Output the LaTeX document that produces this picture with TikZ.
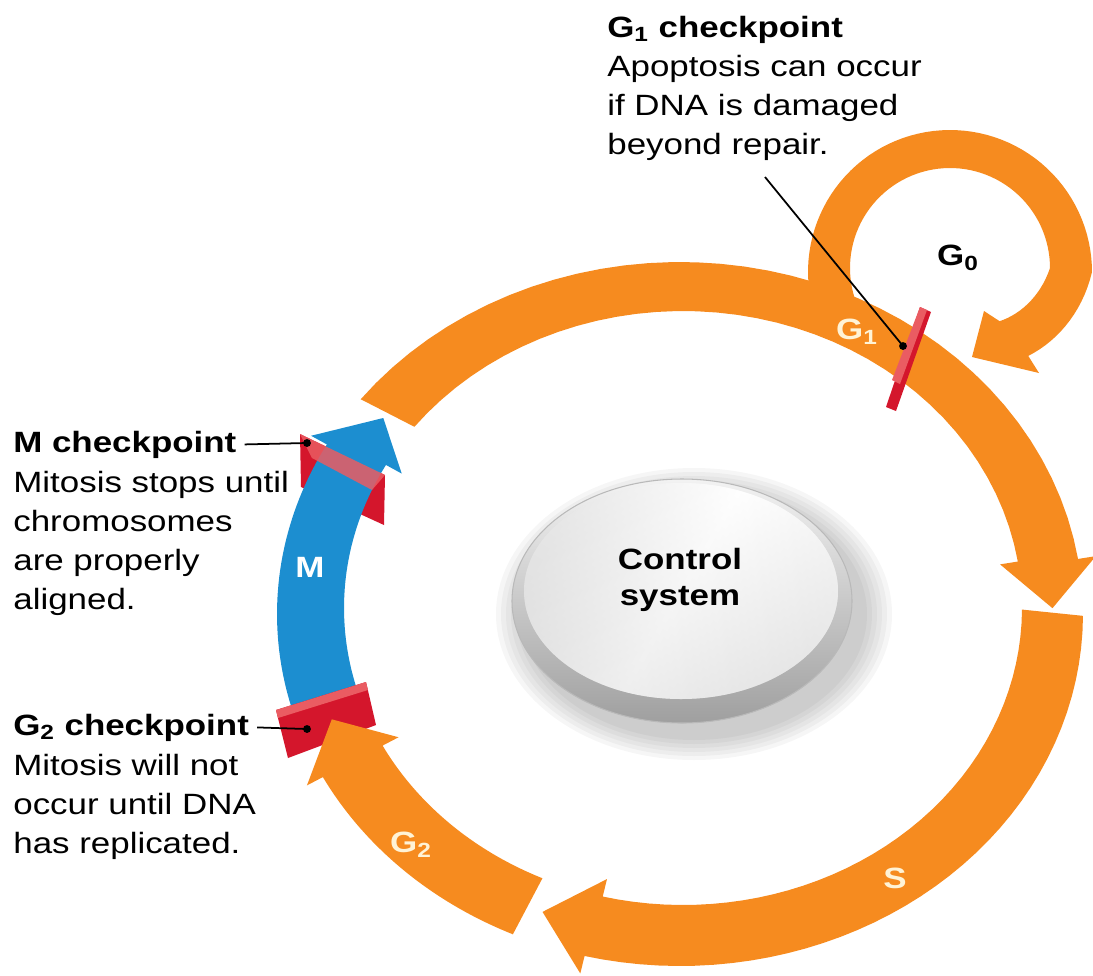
\documentclass[tikz,border=0pt]{standalone}
\usepackage{fontspec}
\setmainfont{Liberation Sans}[FakeStretch=1.19]
\usetikzlibrary{calc}

\definecolor{phaseorange}{RGB}{246,139,31}
\definecolor{phaseblue}{RGB}{28,142,208}
\definecolor{checkred}{RGB}{212,22,44}
\definecolor{checklight}{RGB}{234,92,98}
\definecolor{labelcream}{RGB}{255,243,214}

% band between the two ellipses of the cycle, with its arrow head
\newcommand{\phasearrow}[4]{%
  \fill[#4] plot[domain=#1:#2,samples=40] ({680+403*cos(\x)},{614+352*sin(\x)})
    -- ({680+421*cos(#2)},{614+370*sin(#2)})
    -- ({681.5+371*cos(#3)},{611+324.5*sin(#3)})
    -- ({683+321*cos(#2)},{608+279*sin(#2)})
    -- plot[domain=#2:#1,samples=40] ({683+339*cos(\x)},{608+297*sin(\x)})
    -- cycle;}

\begin{document}
\begin{tikzpicture}[x=0.02cm,y=-0.02cm]
				\tikzstyle{txt}=[font=\fontsize{16.7}{22.2}\selectfont,inner sep=0pt,align=left,anchor=north west]
				\tikzstyle{title}=[font=\fontsize{16.7}{22.2}\selectfont\bfseries,inner sep=0pt,inner xsep=4.5pt,anchor=base west]
				\tikzstyle{phase}=[font=\fontsize{16.7}{22.2}\selectfont\bfseries,text=labelcream,inner sep=0pt]
				\tikzstyle{branch}=[fill,shape=circle,minimum size=4.5pt,inner sep=0pt]
				\tikzstyle{leader}=[line width=1pt]

				\useasboundingbox (0,0) rectangle (1093,975);

				% control system disc
				\foreach \s in {1,...,6}
					\fill[black,opacity=0.035] (694,614) ellipse[x radius={168+5*\s},y radius={122+4*\s}];
				\shade[top color=gray!10,bottom color=gray!75] (682,601) ellipse[x radius=170,y radius=122];
				\draw[gray!55,line width=0.6pt] (682,601) ellipse[x radius=170,y radius=122];
				\shade[top color=white,bottom color=gray!30,shading angle=-30] (681,591) ellipse[x radius=157,y radius=108];
				\shade[left color=gray!22,right color=gray!22,middle color=white,shading angle=60,opacity=0.55] (681,591) ellipse[x radius=157,y radius=108];
				\node[font=\fontsize{16.7}{20.5}\selectfont\bfseries,align=center] (ctrl) at (680,580) {Control\\system};

				% G0 loop, it winds inwards at its end
				\fill[phaseorange] plot[domain=160:407,samples=80]
					({950+(142-max(0,\x-360)*0.58)*cos(\x)},{272+(142-max(0,\x-360)*0.58)*sin(\x)})
					-- (1039,373) -- (972,357) -- (984,311)
					-- plot[domain=407:160,samples=80]
					({950+(100-max(0,\x-360)*0.58)*cos(\x)},{268+(100-max(0,\x-360)*0.58)*sin(\x)}) -- cycle;

				% G1, S and G2
				\phasearrow{217.6}{351}{359.5}{phaseorange}
				\phasearrow{0.3}{103.7}{112}{phaseorange}

				% M checkpoint, blue band runs through it
				\fill[checkred] (300,434) -- (385,475) -- (384,525) -- (301,487) -- cycle;
				\phasearrow{162}{208.8}{216.5}{phaseblue}
				\fill[checklight,opacity=0.85] (300,434) -- (385,475) -- (372,490) -- (312,458) -- cycle;

				% G2 checkpoint
				\fill[checkred] (276,710) -- (366,682) -- (376,725) -- (288,758) -- cycle;
				\fill[checklight] (276,710) -- (366,682) -- (368,690) -- (278,718) -- cycle;
				\phasearrow{114.5}{152.4}{160.5}{phaseorange}

				% G1 checkpoint
				\fill[checkred] (920,307) -- (931,312) -- (896,411) -- (886,407) -- cycle;
				\fill[checklight] (920,307) -- (927,310) -- (900,384) -- (892,380) -- cycle;

				\node[phase] (g1lab) at (857,332) {G\textsubscript{1}};
				\node[phase] (g2lab) at (411,845) {G\textsubscript{2}};
				\node[phase] (slab) at (895,878) {S};
				\node[phase,text=white] (mlab) at (310,567) {M};
				\node[font=\fontsize{16.7}{22.2}\selectfont\bfseries] (g0lab) at (958,258) {G\textsubscript{0}};

				% checkpoint texts
				\node[title] (g1title) at (599,37) {G\textsubscript{1} checkpoint};
				\node[txt] (g1body) at (607,55) {Apoptosis can occur\\if DNA is damaged\\beyond repair.};
				\node[title] (mtitle) at (5,452) {M checkpoint};
				\node[txt] (mbody) at (13,471) {Mitosis stops until\\chromosomes\\are properly\\aligned.};
				\node[title] (g2title) at (5,735) {G\textsubscript{2} checkpoint};
				\node[txt] (g2body) at (13,754) {Mitosis will not\\occur until DNA\\has replicated.};

				\node[branch] (g1dot) at (903,346) {};
				\node[branch] (mdot) at (307,443) {};
				\node[branch] (g2dot) at (307,729) {};
				\coordinate (g1foot) at (765,177);

				\draw[leader] (g1foot) -- (g1dot.center);
				\draw[leader] (mtitle.east) -- (mdot.center);
				\draw[leader] (g2title.east) -- (g2dot.center);

\end{tikzpicture}
\end{document}
